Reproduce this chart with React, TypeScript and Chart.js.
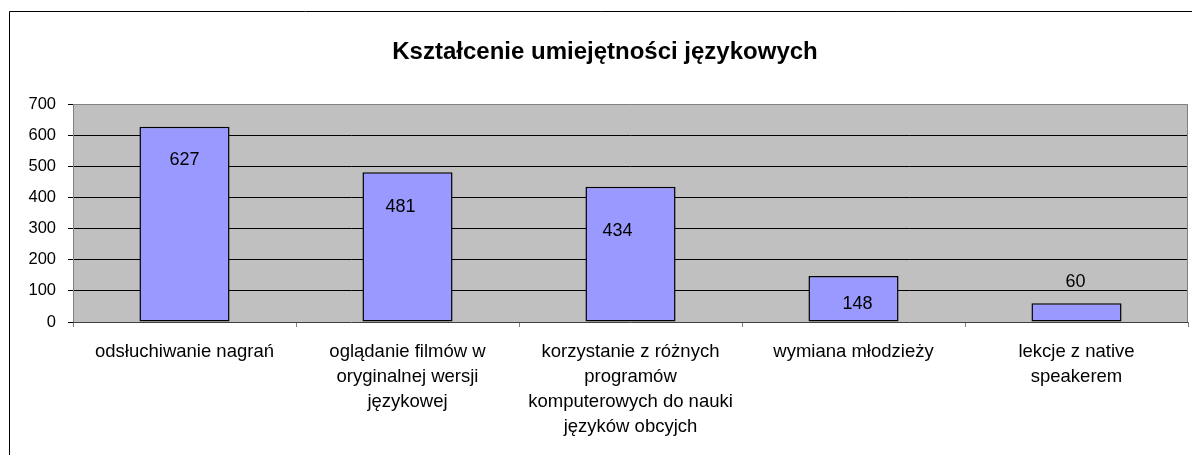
import React, { useEffect, useRef } from "react";
import { Chart, registerables } from "chart.js";

Chart.register(...registerables);

const TITLE = "Kształcenie umiejętności językowych";
const categories: string[][] = [
  ["odsłuchiwanie nagrań"],
  ["oglądanie filmów w", "oryginalnej wersji", "językowej"],
  ["korzystanie z różnych", "programów", "komputerowych do nauki", "języków obcyjch"],
  ["wymiana młodzieży"],
  ["lekcje z native", "speakerem"],
];
const values: number[] = [627, 481, 434, 148, 60];
const yTicks: number[] = [0, 100, 200, 300, 400, 500, 600, 700];

// label offsets (px) relative to the top-centre of each bar
const LABEL_DX = [0, -7, -13, 4, -1];
const LABEL_DY = [33, 35, 44, 28, -21];

const FONT = "'Liberation Sans', Arial, sans-serif";

const framePlugin = {
  id: "frame",
  beforeDraw(chart: any) {
    const { ctx, chartArea: a } = chart;
    ctx.save();
    ctx.fillStyle = "#ffffff";
    ctx.fillRect(0, 0, chart.width, chart.height);
    ctx.strokeStyle = "#000000";
    ctx.lineWidth = 1;
    ctx.beginPath();
    ctx.moveTo(9.5, chart.height + 2);
    ctx.lineTo(9.5, 11.5);
    ctx.lineTo(chart.width + 2, 11.5);
    ctx.stroke();
    ctx.fillStyle = "#C0C0C0";
    ctx.fillRect(a.left, a.top, a.right - a.left, a.bottom - a.top);
    ctx.restore();
  },
  afterDraw(chart: any) {
    const { ctx, chartArea: a } = chart;
    ctx.save();
    ctx.strokeStyle = "#808080";
    ctx.lineWidth = 1;
    ctx.beginPath();
    ctx.moveTo(Math.round(a.left) + 0.5, Math.round(a.bottom) + 0.5);
    ctx.lineTo(Math.round(a.left) + 0.5, Math.round(a.top) + 0.5);
    ctx.lineTo(Math.round(a.right) - 0.5, Math.round(a.top) + 0.5);
    ctx.lineTo(Math.round(a.right) - 0.5, Math.round(a.bottom) + 0.5);
    ctx.stroke();
    ctx.strokeStyle = "#404040";
    ctx.beginPath();
    ctx.moveTo(Math.round(a.left), Math.round(a.bottom) + 0.5);
    ctx.lineTo(Math.round(a.right), Math.round(a.bottom) + 0.5);
    ctx.stroke();
    ctx.fillStyle = "#000000";
    ctx.font = `bold 24px ${FONT}`;
    ctx.textAlign = "center";
    ctx.textBaseline = "middle";
    ctx.fillText(TITLE, chart.width / 2 + 9, 52.5);
    ctx.restore();
  },
};

const labelPlugin = {
  id: "barLabels",
  afterDatasetsDraw(chart: any) {
    const { ctx } = chart;
    const meta = chart.getDatasetMeta(0);
    ctx.save();
    ctx.fillStyle = "#000000";
    ctx.font = `18px ${FONT}`;
    ctx.textAlign = "center";
    ctx.textBaseline = "middle";
    meta.data.forEach((bar: any, i: number) => {
      ctx.fillText(String(values[i]), bar.x + LABEL_DX[i], bar.y + LABEL_DY[i]);
    });
    ctx.restore();
  },
};

export default function App() {
  const ref = useRef<HTMLCanvasElement | null>(null);

  useEffect(() => {
    document.body.style.margin = "0";
    const canvas = ref.current!;
    const chart = new Chart(canvas, {
      type: "bar",
      data: {
        labels: categories,
        datasets: [
          {
            data: values,
            backgroundColor: "#9999FF",
            borderColor: "#000000",
            borderWidth: 1.5,
            borderSkipped: false,
            barPercentage: 0.404,
            categoryPercentage: 1,
          },
        ],
      },
      options: {
        responsive: false,
        animation: false,
        devicePixelRatio: 1,
        layout: { padding: { top: 104, left: 0, right: 4, bottom: 0 } },
        plugins: {
          legend: { display: false },
          title: { display: false },
          tooltip: { enabled: false },
        },
        scales: {
          x: {
            offset: true,
            afterFit: (s: any) => {
              s.height = 133;
            },
            grid: {
              offset: true,
              drawOnChartArea: false,
              drawTicks: true,
              tickLength: 5,
              tickColor: "#808080",
            },
            border: { display: false },
            ticks: {
              color: "#000000",
              padding: 12.5,
              maxRotation: 0,
              autoSkip: false,
              font: { family: FONT, size: 18.5, lineHeight: "25px" },
            },
          },
          y: {
            min: 0,
            max: 700,
            afterFit: (s: any) => {
              s.width = 73;
            },
            afterBuildTicks: (s: any) => {
              s.ticks = yTicks.map((v) => ({ value: v }));
            },
            grid: {
              color: (c: any) =>
                c.tick && c.tick.value > 0 && c.tick.value < 700 ? "#000000" : "rgba(0,0,0,0)",
              tickColor: "#000000",
              tickLength: 5,
              drawTicks: true,
            },
            border: { display: false },
            ticks: {
              color: "#000000",
              padding: 12,
              font: { family: FONT, size: 16.5 },
            },
          },
        },
      },
      plugins: [framePlugin, labelPlugin],
    });
    return () => chart.destroy();
  }, []);

  return (
    <div style={{ position: "absolute", left: 0, top: 0, width: 1192, height: 455 }}>
      <canvas ref={ref} width={1192} height={455} style={{ width: 1192, height: 455, display: "block" }} />
    </div>
  );
}
